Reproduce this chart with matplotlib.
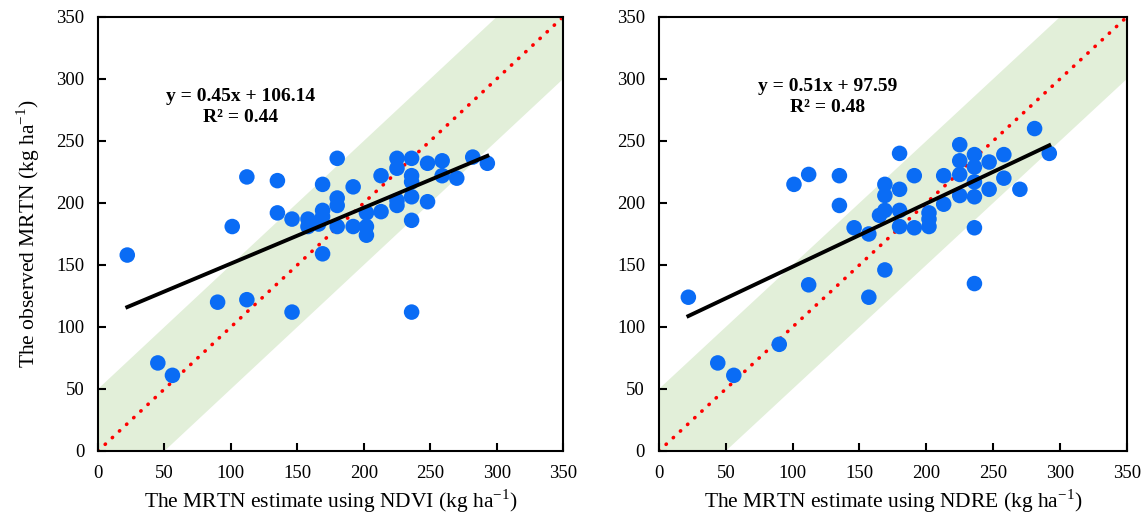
import numpy as np
import matplotlib.pyplot as plt

plt.rcParams['font.family'] = ['Liberation Serif', 'DejaVu Serif']
plt.rcParams['mathtext.fontset'] = 'custom'
plt.rcParams['mathtext.rm'] = 'Liberation Serif'
plt.rcParams['axes.unicode_minus'] = False

# NDVI panel: estimated vs observed MRTN (kg/ha)
ndvi_est = [22, 45, 56, 90, 101, 112, 112, 135, 135, 146, 146, 158, 158, 166,
            169, 169, 169, 169, 180, 180, 180, 180, 192, 192, 202, 202, 202,
            213, 213, 225, 225, 225, 225, 236, 236, 236, 236, 236, 236, 248,
            248, 259, 259, 270, 282, 293]
ndvi_obs = [158, 71, 61, 120, 181, 122, 221, 218, 192, 187, 112, 187, 181, 183,
            215, 194, 189, 159, 236, 204, 198, 181, 213, 181, 192, 181, 174,
            222, 193, 236, 228, 202, 198, 236, 222, 217, 205, 186, 112, 232,
            201, 234, 222, 220, 237, 232]

# NDRE panel
ndre_est = [22, 44, 56, 90, 101, 112, 112, 135, 135, 146, 157, 157, 165, 169,
            169, 169, 169, 180, 180, 180, 180, 191, 191, 202, 202, 202, 213,
            213, 225, 225, 225, 225, 236, 236, 236, 236, 236, 236, 247, 247,
            258, 258, 270, 281, 292]
ndre_obs = [124, 71, 61, 86, 215, 223, 134, 222, 198, 180, 175, 124, 190, 194,
            215, 206, 146, 240, 211, 194, 181, 222, 180, 192, 187, 181, 222,
            199, 247, 234, 223, 206, 239, 229, 217, 205, 180, 135, 233, 211,
            239, 220, 211, 260, 240]

slopes = [0.45, 0.51]
intercepts = [106.14, 97.59]
r2_values = [0.44, 0.48]
index_names = ['NDVI', 'NDRE']

unit = r'(kg ha$^{\mathregular{-1}}$)'

fig = plt.figure(figsize=(11.44, 5.17), dpi=100)
ax1 = fig.add_axes([0.0857, 0.1277, 0.4065, 0.8395])
ax2 = fig.add_axes([0.576, 0.1277, 0.409, 0.8395])

panels = [(ax1, ndvi_est, ndvi_obs), (ax2, ndre_est, ndre_obs)]
text_pos = [(107, 286), (126, 294)]

for i, (ax, xs, ys) in enumerate(panels):
    # +/- 50 kg/ha band around the 1:1 line
    band_x = np.array([0, 350])
    ax.fill_between(band_x, band_x - 50, band_x + 50, color='#e2efd9',
                    linewidth=0, zorder=1)
    # 1:1 line
    ax.plot([0, 350], [0, 350], color='red', linestyle=(0, (0.1, 2.6)),
            linewidth=2.6, dash_capstyle='round', zorder=2)
    ax.scatter(xs, ys, s=125, color='#0a6cf5', edgecolors='none', zorder=3)
    # fitted line from reported equation
    fx = np.array([min(xs), max(xs)])
    ax.plot(fx, slopes[i] * fx + intercepts[i], color='black', linewidth=2.8,
            zorder=4)

    tx, ty = text_pos[i]
    ax.text(tx, ty, 'y = %.2fx + %.2f' % (slopes[i], intercepts[i]),
            ha='center', va='center', fontsize=14, fontweight='bold')
    ax.text(tx, ty - 17, 'R² = %.2f' % r2_values[i],
            ha='center', va='center', fontsize=14, fontweight='bold')

    ax.set_xlim(0, 350)
    ax.set_ylim(0, 350)
    ax.set_xticks(range(0, 351, 50))
    ax.set_yticks(range(0, 351, 50))
    ax.tick_params(direction='in', length=6, width=1.5, labelsize=13.5,
                   pad=10, colors='black')
    for sp in ax.spines.values():
        sp.set_linewidth(1.5)
        sp.set_color('black')
    ax.set_xlabel('The MRTN estimate using %s ' % index_names[i] + unit,
                  fontsize=15.5, labelpad=4)

ax1.set_ylabel('The observed MRTN ' + unit, fontsize=15.5, labelpad=10)

fig.savefig('out.png', dpi=100)
